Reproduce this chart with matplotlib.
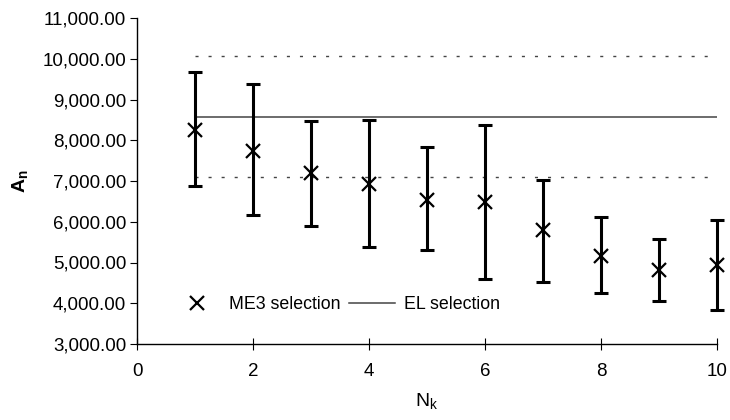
import matplotlib
matplotlib.use("Agg")
import matplotlib.pyplot as plt
from matplotlib.ticker import FuncFormatter

plt.rcParams['font.family'] = ['Liberation Sans', 'DejaVu Sans']

# data
nk = [1, 2, 3, 4, 5, 6, 7, 8, 9, 10]
me3 = [8260, 7745, 7195, 6935, 6540, 6485, 5790, 5165, 4810, 4945]
upper = [9675, 9370, 8465, 8490, 7825, 8380, 7030, 6125, 5585, 6050]
lower = [6885, 6155, 5905, 5390, 5295, 4605, 4520, 4250, 4045, 3840]
el_value = 8560
el_band = [7090, 10075]

err_lo = [m - l for m, l in zip(me3, lower)]
err_hi = [u - m for m, u in zip(me3, upper)]

fig = plt.figure(figsize=(7.3, 4.2), dpi=100)
ax = fig.add_axes([0.188, 0.181, 0.794, 0.776])

eb = ax.errorbar(nk, me3, yerr=[err_lo, err_hi], fmt='none', ecolor='black',
                 elinewidth=2.2, capsize=5, capthick=2.2, zorder=3)
for art in eb.lines[1] + eb.lines[2]:
    art.set_clip_on(False)
ax.plot(nk, me3, 'x', color='black', markersize=10, markeredgewidth=1.6,
        label='ME3 selection', zorder=4, clip_on=False)
ax.plot([nk[0], nk[-1]], [el_value, el_value], color='#444444', lw=1.1,
        label='EL selection')
for b in el_band:
    ax.plot([nk[0], nk[-1]], [b, b], color='#444444', lw=1.0,
            linestyle=(0, (2.2, 7.2)))

ax.set_xlim(0, 10)
ax.set_ylim(3000, 11000)
ax.set_xticks([0, 2, 4, 6, 8, 10])
ax.set_yticks(range(3000, 11001, 1000))
ax.yaxis.set_major_formatter(FuncFormatter(lambda v, p: f'{v:,.2f}'))

for s in ['top', 'right']:
    ax.spines[s].set_visible(False)
for s in ['left', 'bottom']:
    ax.spines[s].set_linewidth(1.0)

ax.tick_params(axis='x', direction='inout', length=8, labelsize=13.5, pad=10)
ax.tick_params(axis='y', direction='out', length=5, labelsize=13.5, pad=3)

ax.set_xlabel('N$_\\mathregular{k}$', fontsize=14, labelpad=8)
ax.set_ylabel('A$_\\mathregular{n}$', fontsize=14, fontweight='bold', labelpad=8)

ax.legend(loc='lower left', bbox_to_anchor=(0.035, 0.045), ncol=2, frameon=False,
          fontsize=12.8, handlelength=2.6, columnspacing=0.5, handletextpad=0.5)

fig.savefig('out.png', dpi=100)
